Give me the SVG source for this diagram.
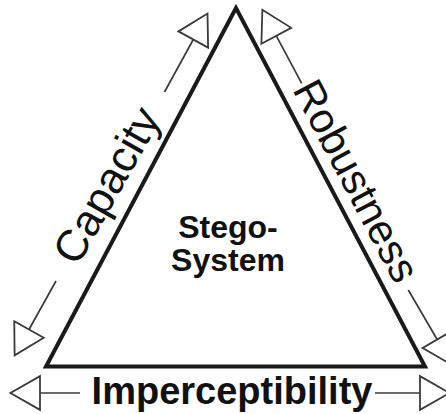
<svg xmlns="http://www.w3.org/2000/svg" width="446" height="414" viewBox="0 0 446 414">
  <style>
    .edge { fill: #ffffff; stroke: #1a1a1a; stroke-width: 4; stroke-linejoin: miter; }
    .axis { fill: none; stroke: #3a3a3a; stroke-width: 1.7; }
    .lbl { font-family: "Liberation Sans", Arial, sans-serif; fill: #111111; text-anchor: middle; }
    .side { font-weight: normal; }
    .bold { font-weight: bold; }
  </style>
  <defs>
    <!-- hollow triangular arrowhead, base sits on the line end -->
    <marker id="open-head" markerUnits="userSpaceOnUse" markerWidth="34" markerHeight="38"
            viewBox="-2 -18 32 36" refX="0" refY="0" orient="auto-start-reverse" overflow="visible">
      <path d="M0,-16 L28,0 L0,16 Z" fill="#ffffff" stroke="#3a3a3a" stroke-width="1.7" stroke-linejoin="miter"/>
    </marker>
  </defs>

  <!-- central node: the stego-system triangle -->
  <g id="stego-system">
    <polygon class="edge" points="236,8 46,366.5 425,366.5"/>
    <text class="lbl bold" font-size="32" x="228" y="238">Stego-</text>
    <text class="lbl bold" font-size="32" x="228" y="271">System</text>
  </g>

  <!-- double-headed property axes, broken where the labels sit -->
  <g id="connectors">
    <!-- capacity axis (left) -->
    <line class="axis" x1="56" y1="281" x2="29" y2="329.5" marker-end="url(#open-head)"/>
    <line class="axis" x1="164.5" y1="92" x2="193.3" y2="39.5" marker-end="url(#open-head)"/>
    <!-- robustness axis (right) -->
    <line class="axis" x1="301.7" y1="83.3" x2="276.3" y2="35.8" marker-end="url(#open-head)"/>
    <line class="axis" x1="408.3" y1="290" x2="437.2" y2="339.5" marker-end="url(#open-head)"/>
    <!-- imperceptibility axis (bottom) -->
    <line class="axis" x1="80" y1="393" x2="40" y2="393" marker-end="url(#open-head)"/>
    <line class="axis" x1="375" y1="393" x2="420" y2="393" marker-end="url(#open-head)"/>
  </g>

  <g id="capacity">
    <text class="lbl side" font-size="44" transform="translate(109.7,187) rotate(-60.47)" x="0" y="11.5">Capacity</text>
  </g>

  <g id="robustness">
    <text class="lbl side" font-size="42" transform="translate(353.5,182.4) rotate(62.24)" x="0" y="11">Robustness</text>
  </g>

  <g id="imperceptibility">
    <text class="lbl bold" font-size="38" x="232" y="404">Imperceptibility</text>
  </g>
</svg>
